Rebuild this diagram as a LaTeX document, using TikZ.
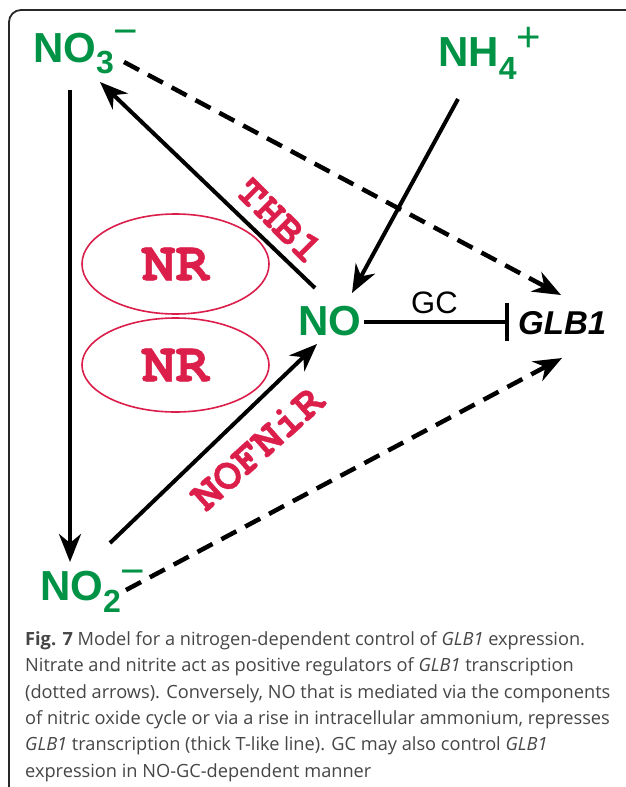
\documentclass[tikz,border=0pt]{standalone}
\usepackage{fontspec}
\setmainfont{Liberation Sans}
\newfontfamily\monof{TeX Gyre Cursor}[BoldFeatures={FakeBold=0.8}]
\newfontfamily\capf{Open Sans}
\usetikzlibrary{arrows.meta,shapes.geometric}
\definecolor{chemgreen}{RGB}{0,146,69}
\definecolor{enzred}{RGB}{220,30,75}
\definecolor{framegray}{RGB}{40,40,40}
\definecolor{captext}{RGB}{70,70,70}
\begin{document}
\begin{tikzpicture}[x=1pt,y=-1pt,
  chem/.style={text=chemgreen, font=\fontsize{42}{42}\selectfont\bfseries, inner sep=0pt, anchor=base west},
  enz/.style={text=enzred, font=\monof\bfseries\fontsize{45}{45}\selectfont, inner sep=0pt},
  nrbox/.style={ellipse, draw=enzred, line width=1.6pt, text=enzred, inner sep=0pt,
     font=\monof\bfseries\fontsize{56}{56}\selectfont, minimum width=187pt},
  arr/.style={line width=4pt, -{Stealth[length=28pt,width=22pt,inset=9pt]}},
  darr/.style={line width=4.5pt, dash pattern=on 17pt off 10pt, -{Stealth[length=28pt,width=22pt,inset=9pt]}},
  capline/.style={anchor=base west, inner sep=0pt, text=captext, font=\capf\fontsize{18.2}{18.2}\selectfont}
]
\useasboundingbox (0,0) rectangle (625,787);
\fill[white] (0,0) rectangle (625,787);
% frame
\draw[framegray, line width=1.8pt, rounded corners=12pt] (9,800) -- (9,10) -- (640,10);

% species
\node[chem] (no3) at (33,62) {NO\raisebox{-11pt}{\fontsize{32}{32}\selectfont 3}\raisebox{16.3pt}{\mdseries −}};
\node[chem] (nh4) at (438,66) {NH\raisebox{-13pt}{\fontsize{32}{32}\selectfont 4}\raisebox{14.3pt}{\mdseries +}};
\node[chem] (no) at (298,335) {NO};
\node[chem] (no2) at (40,600) {NO\raisebox{-12pt}{\fontsize{32}{32}\selectfont 2}\raisebox{14.3pt}{\mdseries −}};
\node[anchor=base west, inner sep=0pt, font=\fontsize{33}{33}\selectfont\bfseries\itshape] (glb) at (518,334) {GLB1};
\node[anchor=base west, inner sep=0pt, font=\fontsize{31}{31}\selectfont] (gc) at (411,313) {GC};

% enzymes
\node[nrbox, minimum height=100pt] (nr1) at (175.5,264) {NR};
\node[nrbox, minimum height=94pt] (nr2) at (175.5,365) {NR};
\node[enz, rotate=-45, font=\monof\bfseries\fontsize{43}{43}\selectfont] (thb) at (280,220) {THB1};
\node[enz, rotate=42] (nof) at (257,448) {NOFNiR};

% connector ends
\coordinate (no3s) at (70,90);
\coordinate (no2n) at (70,562);
\coordinate (nonw) at (315,288);
\coordinate (no3se) at (100,82);
\coordinate (no2ne) at (110,543);
\coordinate (nosw) at (317,344);
\coordinate (nh4s) at (458,99);
\coordinate (none) at (352,293);
\coordinate (no3e) at (124,62);
\coordinate (glbnw) at (561,295);
\coordinate (no2e) at (126,590);
\coordinate (glbsw) at (562,358);
\coordinate (noe) at (364,322);
\coordinate (glbw) at (507,322);

\draw[arr] (no3s) -- (no2n);
\draw[arr] (nonw) -- (no3se);
\draw[arr] (no2ne) -- (nosw);
\draw[arr] (nh4s) -- (none);
\draw[darr] (no3e) -- (glbnw);
\draw[darr] (no2e) -- (glbsw);
\draw[line width=4pt] (noe) -- (glbw);
\draw[line width=4pt] ([yshift=-19pt]glbw) -- ([yshift=19pt]glbw);

% caption
\node[capline] (c1) at (25,645) {\textbf{Fig. 7} Model for a nitrogen-dependent control of \textit{GLB1} expression.};
\node[capline] (c2) at (25,671) {Nitrate and nitrite act as positive regulators of \textit{GLB1} transcription};
\node[capline] (c3) at (25,698) {(dotted arrows). Conversely, NO that is mediated via the components};
\node[capline] (c4) at (25,724) {of nitric oxide cycle or via a rise in intracellular ammonium, represses};
\node[capline] (c5) at (25,750) {\textit{GLB1} transcription (thick T-like line). GC may also control \textit{GLB1}};
\node[capline] (c6) at (25,777) {expression in NO-GC-dependent manner};
\end{tikzpicture}
\end{document}
